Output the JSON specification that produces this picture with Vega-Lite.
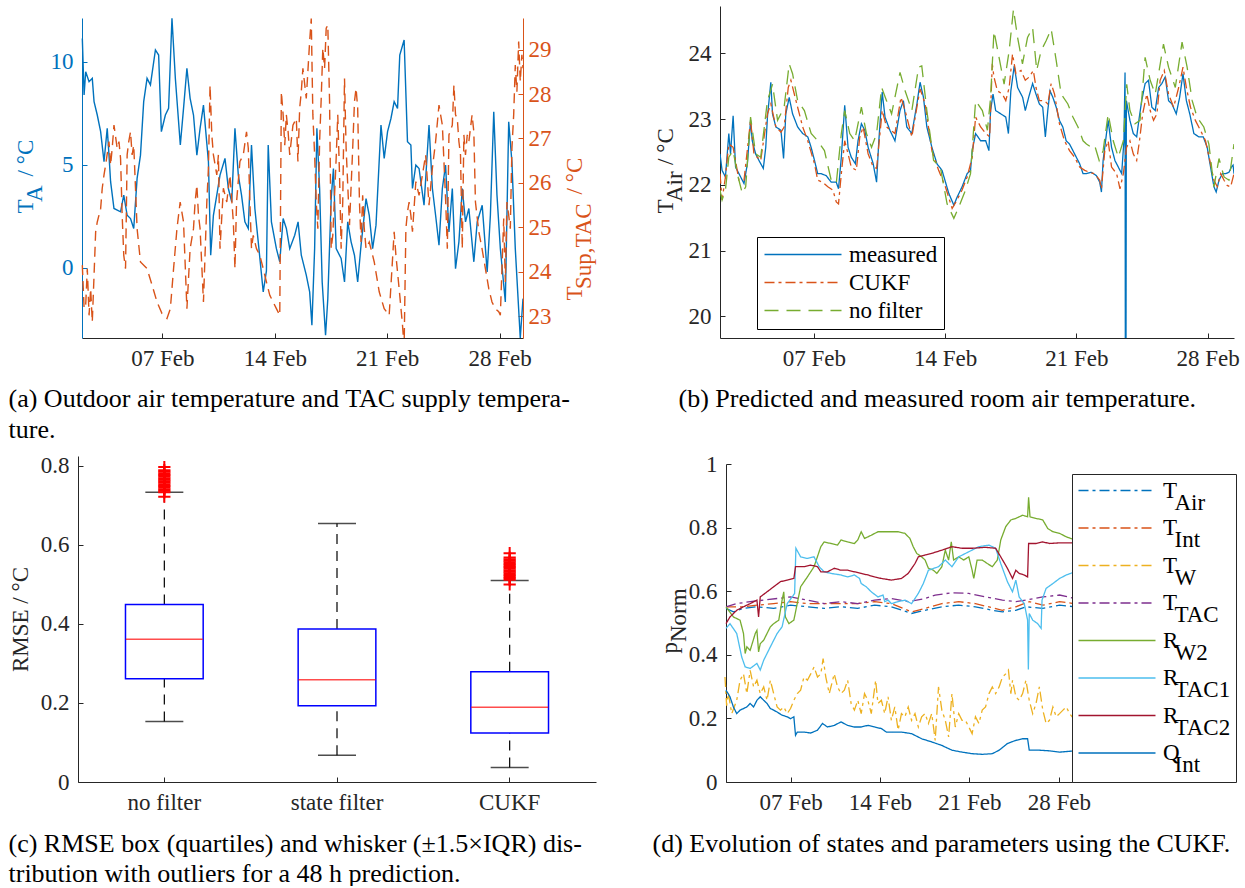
{
"$schema": "https://vega.github.io/schema/vega-lite/v6.json",
"background": "white",
"padding": {"left": 8, "top": 6, "right": 0, "bottom": 0},
"bounds": "flush",
"columns": 2,
"spacing": {"row": 118, "column": 124},
"resolve": {"scale": {"color": "independent", "strokeDash": "independent"}, "legend": {"color": "independent", "strokeDash": "independent"}},
"datasets": {
"ta": [{"d":2.02,"v":11.13},{"d":2.13,"v":8.38},{"d":2.23,"v":9.51},{"d":2.44,"v":9.03},{"d":2.64,"v":9.19},{"d":2.75,"v":8.06},{"d":2.95,"v":7.41},{"d":3.16,"v":6.6},{"d":3.37,"v":5.14},{"d":3.57,"v":6.76},{"d":3.68,"v":5.46},{"d":3.78,"v":4.17},{"d":3.99,"v":2.87},{"d":4.4,"v":2.71},{"d":4.6,"v":3.52},{"d":4.81,"v":2.54},{"d":5.02,"v":2.38},{"d":5.22,"v":1.9},{"d":5.43,"v":4.33},{"d":5.64,"v":5.46},{"d":5.84,"v":8.06},{"d":6.05,"v":9.19},{"d":6.26,"v":8.87},{"d":6.57,"v":10.57},{"d":6.77,"v":10.32},{"d":6.94,"v":6.6},{"d":7.19,"v":7.41},{"d":7.39,"v":7.73},{"d":7.6,"v":12.11},{"d":7.81,"v":9.19},{"d":8.12,"v":5.95},{"d":8.32,"v":7.73},{"d":8.53,"v":9.68},{"d":8.73,"v":8.22},{"d":8.94,"v":7.41},{"d":9.15,"v":5.46},{"d":9.35,"v":6.76},{"d":9.56,"v":7.89},{"d":9.87,"v":5.14},{"d":10.01,"v":0.6},{"d":10.18,"v":2.54},{"d":10.39,"v":3.52},{"d":10.59,"v":4.49},{"d":10.9,"v":5.3},{"d":11.11,"v":3.84},{"d":11.32,"v":3.19},{"d":11.52,"v":6.76},{"d":11.73,"v":4.49},{"d":11.93,"v":3.52},{"d":12.14,"v":2.22},{"d":12.35,"v":1.9},{"d":12.55,"v":5.95},{"d":12.76,"v":2.87},{"d":12.97,"v":1.25},{"d":13.28,"v":-1.18},{"d":13.48,"v":-0.16},{"d":13.59,"v":5.95},{"d":13.79,"v":2.22},{"d":14.1,"v":0.92},{"d":14.31,"v":0.28},{"d":14.52,"v":2.38},{"d":14.72,"v":1.9},{"d":14.93,"v":0.92},{"d":15.24,"v":1.57},{"d":15.45,"v":2.22},{"d":15.65,"v":0.6},{"d":15.96,"v":-0.37},{"d":16.17,"v":-1.18},{"d":16.31,"v":-2.8},{"d":16.48,"v":0.92},{"d":16.62,"v":6.76},{"d":16.79,"v":3.84},{"d":16.95,"v":-0.7},{"d":17.16,"v":-3.29},{"d":17.3,"v":-1.51},{"d":17.51,"v":3.35},{"d":17.65,"v":4.81},{"d":17.82,"v":0.92},{"d":18.13,"v":0.44},{"d":18.34,"v":-0.7},{"d":18.54,"v":2.22},{"d":18.75,"v":1.25},{"d":18.96,"v":0.6},{"d":19.16,"v":-0.7},{"d":19.37,"v":1.09},{"d":19.68,"v":3.35},{"d":19.88,"v":2.54},{"d":20.09,"v":0.92},{"d":20.3,"v":2.06},{"d":20.61,"v":6.92},{"d":20.81,"v":5.3},{"d":21.02,"v":6.6},{"d":21.23,"v":7.24},{"d":21.43,"v":8.06},{"d":21.64,"v":7.73},{"d":21.78,"v":10.32},{"d":22.05,"v":11.05},{"d":22.26,"v":6.11},{"d":22.47,"v":5.95},{"d":22.57,"v":3.84},{"d":22.78,"v":4.98},{"d":22.98,"v":4.81},{"d":23.29,"v":3.03},{"d":23.6,"v":6.92},{"d":23.81,"v":3.84},{"d":24.01,"v":2.54},{"d":24.22,"v":1.09},{"d":24.43,"v":3.84},{"d":24.63,"v":4.98},{"d":24.84,"v":1.73},{"d":25.05,"v":3.84},{"d":25.25,"v":-0.05},{"d":25.46,"v":1.25},{"d":25.67,"v":3.84},{"d":25.87,"v":2.22},{"d":26.08,"v":2.87},{"d":26.39,"v":0.28},{"d":26.6,"v":2.22},{"d":26.91,"v":3.03},{"d":27.22,"v":-0.21},{"d":27.42,"v":2.54},{"d":27.63,"v":7.57},{"d":27.83,"v":3.52},{"d":28.04,"v":0.92},{"d":28.35,"v":-1.67},{"d":28.56,"v":7.08},{"d":28.76,"v":5.14},{"d":28.97,"v":0.92},{"d":29.28,"v":-3.42},{"d":29.45,"v":-1.51}],
"ts": [{"d":2.02,"v":24.15},{"d":2.13,"v":23.17},{"d":2.23,"v":23.25},{"d":2.33,"v":24.07},{"d":2.44,"v":23.02},{"d":2.54,"v":23.62},{"d":2.64,"v":22.87},{"d":2.75,"v":23.92},{"d":2.85,"v":24.9},{"d":2.95,"v":25.12},{"d":3.16,"v":25.42},{"d":3.26,"v":25.88},{"d":3.37,"v":26.18},{"d":3.47,"v":26.4},{"d":3.68,"v":26.93},{"d":3.78,"v":26.4},{"d":3.88,"v":26.78},{"d":3.99,"v":27.3},{"d":4.19,"v":26.78},{"d":4.3,"v":26.93},{"d":4.4,"v":26.55},{"d":4.5,"v":25.27},{"d":4.6,"v":24.37},{"d":4.71,"v":24.07},{"d":4.81,"v":26.63},{"d":4.91,"v":26.93},{"d":5.02,"v":27.15},{"d":5.12,"v":26.63},{"d":5.22,"v":26.85},{"d":5.33,"v":25.88},{"d":5.43,"v":24.97},{"d":5.64,"v":24.22},{"d":6.05,"v":24.07},{"d":6.36,"v":23.7},{"d":6.67,"v":23.32},{"d":6.98,"v":23.06},{"d":7.29,"v":22.95},{"d":7.5,"v":23.17},{"d":7.7,"v":24.07},{"d":7.91,"v":24.97},{"d":8.11,"v":25.57},{"d":8.32,"v":25.12},{"d":8.53,"v":23.17},{"d":8.73,"v":24.52},{"d":8.94,"v":24.97},{"d":9.04,"v":25.57},{"d":9.15,"v":25.95},{"d":9.25,"v":25.27},{"d":9.35,"v":24.97},{"d":9.56,"v":23.32},{"d":9.77,"v":25.57},{"d":9.87,"v":26.33},{"d":9.97,"v":28.2},{"d":10.08,"v":27.08},{"d":10.18,"v":26.63},{"d":10.39,"v":26.18},{"d":10.49,"v":26.63},{"d":10.59,"v":24.52},{"d":10.8,"v":25.88},{"d":11.01,"v":25.57},{"d":11.21,"v":26.18},{"d":11.42,"v":25.12},{"d":11.52,"v":24.07},{"d":11.62,"v":25.57},{"d":11.83,"v":26.48},{"d":12.04,"v":26.63},{"d":12.24,"v":27.15},{"d":12.35,"v":26.78},{"d":12.45,"v":25.57},{"d":12.55,"v":24.52},{"d":12.66,"v":24.82},{"d":12.86,"v":24.52},{"d":13.07,"v":24.37},{"d":13.28,"v":24.07},{"d":13.48,"v":23.77},{"d":13.69,"v":23.47},{"d":13.9,"v":23.32},{"d":14.1,"v":23.17},{"d":14.31,"v":23.02},{"d":14.41,"v":28.05},{"d":14.52,"v":27.53},{"d":14.62,"v":26.85},{"d":14.72,"v":27.53},{"d":14.83,"v":27.15},{"d":14.93,"v":26.63},{"d":15.13,"v":27.3},{"d":15.34,"v":27.45},{"d":15.44,"v":26.48},{"d":15.55,"v":27.68},{"d":15.65,"v":28.05},{"d":15.75,"v":28.58},{"d":15.96,"v":27.9},{"d":16.17,"v":29.18},{"d":16.27,"v":29.7},{"d":16.37,"v":27.53},{"d":16.48,"v":26.63},{"d":16.58,"v":25.57},{"d":16.68,"v":24.97},{"d":16.79,"v":26.93},{"d":16.89,"v":27.9},{"d":16.99,"v":29.03},{"d":17.1,"v":28.58},{"d":17.2,"v":29.48},{"d":17.3,"v":29.55},{"d":17.41,"v":27.83},{"d":17.51,"v":24.52},{"d":17.61,"v":24.82},{"d":17.82,"v":26.55},{"d":17.92,"v":27.53},{"d":18.03,"v":26.18},{"d":18.13,"v":24.52},{"d":18.23,"v":25.57},{"d":18.34,"v":28.35},{"d":18.44,"v":26.78},{"d":18.65,"v":25.05},{"d":18.85,"v":26.78},{"d":18.96,"v":27.83},{"d":19.06,"v":28.13},{"d":19.16,"v":27.68},{"d":19.27,"v":25.57},{"d":19.37,"v":24.67},{"d":19.47,"v":25.72},{"d":19.57,"v":24.97},{"d":19.68,"v":24.52},{"d":19.88,"v":24.67},{"d":20.09,"v":24.37},{"d":20.19,"v":24.22},{"d":20.5,"v":23.55},{"d":20.81,"v":23.17},{"d":21.12,"v":23.02},{"d":21.43,"v":24.9},{"d":21.54,"v":24.37},{"d":21.74,"v":23.62},{"d":21.95,"v":22.8},{"d":22.05,"v":22.3},{"d":22.16,"v":24.97},{"d":22.26,"v":25.35},{"d":22.36,"v":25.57},{"d":22.47,"v":25.27},{"d":22.57,"v":24.9},{"d":22.78,"v":26.03},{"d":22.98,"v":25.72},{"d":23.19,"v":26.18},{"d":23.39,"v":26.63},{"d":23.6,"v":25.5},{"d":23.81,"v":26.33},{"d":24.01,"v":26.93},{"d":24.22,"v":27.75},{"d":24.43,"v":27.3},{"d":24.63,"v":25.65},{"d":24.74,"v":24.52},{"d":24.84,"v":27.08},{"d":25.05,"v":27.3},{"d":25.15,"v":28.2},{"d":25.25,"v":27.53},{"d":25.36,"v":27.45},{"d":25.46,"v":26.93},{"d":25.56,"v":26.63},{"d":25.67,"v":24.52},{"d":25.77,"v":27.08},{"d":25.87,"v":26.63},{"d":25.98,"v":27.08},{"d":26.08,"v":26.93},{"d":26.28,"v":27.53},{"d":26.39,"v":27.15},{"d":26.49,"v":25.57},{"d":26.7,"v":24.9},{"d":26.9,"v":24.52},{"d":27.11,"v":24.07},{"d":27.32,"v":23.62},{"d":27.52,"v":23.32},{"d":27.73,"v":23.17},{"d":27.94,"v":23.1},{"d":28.04,"v":23.02},{"d":28.25,"v":25.2},{"d":28.35,"v":23.77},{"d":28.45,"v":25.57},{"d":28.56,"v":25.27},{"d":28.66,"v":24.97},{"d":28.76,"v":26.78},{"d":28.87,"v":27.53},{"d":28.97,"v":28.65},{"d":29.07,"v":28.05},{"d":29.18,"v":29.18},{"d":29.28,"v":28.28},{"d":29.38,"v":28.88},{"d":29.45,"v":28.58}],
"tb": [{"s":"measured","d":2.0,"v":22.47},{"s":"measured","d":2.11,"v":22.22},{"s":"measured","d":2.29,"v":22.12},{"s":"measured","d":2.47,"v":22.78},{"s":"measured","d":2.56,"v":22.47},{"s":"measured","d":2.7,"v":23.05},{"s":"measured","d":2.83,"v":22.27},{"s":"measured","d":3.01,"v":22.17},{"s":"measured","d":3.28,"v":22.02},{"s":"measured","d":3.46,"v":22.32},{"s":"measured","d":3.63,"v":22.98},{"s":"measured","d":3.72,"v":22.67},{"s":"measured","d":3.9,"v":22.47},{"s":"measured","d":4.08,"v":22.37},{"s":"measured","d":4.31,"v":22.25},{"s":"measured","d":4.44,"v":22.57},{"s":"measured","d":4.53,"v":23.03},{"s":"measured","d":4.71,"v":23.56},{"s":"measured","d":4.8,"v":23.08},{"s":"measured","d":4.98,"v":22.88},{"s":"measured","d":5.25,"v":22.83},{"s":"measured","d":5.39,"v":22.4},{"s":"measured","d":5.51,"v":23.08},{"s":"measured","d":5.69,"v":23.33},{"s":"measured","d":5.87,"v":23.08},{"s":"measured","d":6.14,"v":22.88},{"s":"measured","d":6.41,"v":22.78},{"s":"measured","d":6.68,"v":22.73},{"s":"measured","d":6.86,"v":22.57},{"s":"measured","d":7.04,"v":22.37},{"s":"measured","d":7.21,"v":22.17},{"s":"measured","d":7.39,"v":22.17},{"s":"measured","d":7.66,"v":22.14},{"s":"measured","d":7.93,"v":22.04},{"s":"measured","d":8.2,"v":22.04},{"s":"measured","d":8.32,"v":21.94},{"s":"measured","d":8.47,"v":22.42},{"s":"measured","d":8.65,"v":23.21},{"s":"measured","d":8.83,"v":22.57},{"s":"measured","d":9.0,"v":22.42},{"s":"measured","d":9.22,"v":22.32},{"s":"measured","d":9.36,"v":22.67},{"s":"measured","d":9.54,"v":22.93},{"s":"measured","d":9.72,"v":22.83},{"s":"measured","d":9.9,"v":22.57},{"s":"measured","d":10.17,"v":22.32},{"s":"measured","d":10.35,"v":22.04},{"s":"measured","d":10.47,"v":22.67},{"s":"measured","d":10.65,"v":23.41},{"s":"measured","d":10.8,"v":23.03},{"s":"measured","d":11.06,"v":22.83},{"s":"measured","d":11.33,"v":22.67},{"s":"measured","d":11.6,"v":23.13},{"s":"measured","d":11.78,"v":23.28},{"s":"measured","d":11.96,"v":22.88},{"s":"measured","d":12.23,"v":22.78},{"s":"measured","d":12.5,"v":23.23},{"s":"measured","d":12.67,"v":23.56},{"s":"measured","d":12.85,"v":23.33},{"s":"measured","d":13.03,"v":22.88},{"s":"measured","d":13.3,"v":22.57},{"s":"measured","d":13.57,"v":22.32},{"s":"measured","d":13.84,"v":22.22},{"s":"measured","d":14.2,"v":21.87},{"s":"measured","d":14.47,"v":21.69},{"s":"measured","d":14.64,"v":21.81},{"s":"measured","d":14.91,"v":21.97},{"s":"measured","d":15.18,"v":22.17},{"s":"measured","d":15.36,"v":22.22},{"s":"measured","d":15.45,"v":22.52},{"s":"measured","d":15.63,"v":22.78},{"s":"measured","d":15.9,"v":22.67},{"s":"measured","d":16.17,"v":22.67},{"s":"measured","d":16.34,"v":22.52},{"s":"measured","d":16.43,"v":23.13},{"s":"measured","d":16.56,"v":23.38},{"s":"measured","d":16.7,"v":23.13},{"s":"measured","d":16.97,"v":23.08},{"s":"measured","d":17.24,"v":23.03},{"s":"measured","d":17.38,"v":22.78},{"s":"measured","d":17.51,"v":23.43},{"s":"measured","d":17.69,"v":23.81},{"s":"measured","d":17.87,"v":23.48},{"s":"measured","d":18.14,"v":23.33},{"s":"measured","d":18.28,"v":23.13},{"s":"measured","d":18.46,"v":23.33},{"s":"measured","d":18.67,"v":23.54},{"s":"measured","d":18.85,"v":23.38},{"s":"measured","d":19.03,"v":23.23},{"s":"measured","d":19.21,"v":23.18},{"s":"measured","d":19.35,"v":22.73},{"s":"measured","d":19.48,"v":23.13},{"s":"measured","d":19.6,"v":23.43},{"s":"measured","d":19.75,"v":23.33},{"s":"measured","d":19.93,"v":23.18},{"s":"measured","d":20.1,"v":22.98},{"s":"measured","d":20.28,"v":22.88},{"s":"measured","d":20.46,"v":22.67},{"s":"measured","d":20.64,"v":22.62},{"s":"measured","d":20.91,"v":22.47},{"s":"measured","d":21.18,"v":22.32},{"s":"measured","d":21.36,"v":22.17},{"s":"measured","d":21.54,"v":22.17},{"s":"measured","d":21.8,"v":22.19},{"s":"measured","d":22.07,"v":22.14},{"s":"measured","d":22.25,"v":22.04},{"s":"measured","d":22.34,"v":21.89},{"s":"measured","d":22.43,"v":22.37},{"s":"measured","d":22.61,"v":22.78},{"s":"measured","d":22.7,"v":22.98},{"s":"measured","d":22.88,"v":22.57},{"s":"measured","d":23.06,"v":22.37},{"s":"measured","d":23.24,"v":22.27},{"s":"measured","d":23.42,"v":22.17},{"s":"measured","d":23.54,"v":22.67},{"s":"measured","d":23.6,"v":23.71},{"s":"measured","d":23.63,"v":15.0},{"s":"measured","d":23.67,"v":23.28},{"s":"measured","d":23.86,"v":22.98},{"s":"measured","d":24.04,"v":22.78},{"s":"measured","d":24.22,"v":22.73},{"s":"measured","d":24.36,"v":23.03},{"s":"measured","d":24.49,"v":23.28},{"s":"measured","d":24.67,"v":23.54},{"s":"measured","d":24.85,"v":23.59},{"s":"measured","d":25.03,"v":23.18},{"s":"measured","d":25.21,"v":23.13},{"s":"measured","d":25.39,"v":23.48},{"s":"measured","d":25.56,"v":23.54},{"s":"measured","d":25.74,"v":23.64},{"s":"measured","d":25.92,"v":23.28},{"s":"measured","d":26.1,"v":23.23},{"s":"measured","d":26.33,"v":23.08},{"s":"measured","d":26.51,"v":23.33},{"s":"measured","d":26.69,"v":23.69},{"s":"measured","d":26.87,"v":23.28},{"s":"measured","d":27.05,"v":23.08},{"s":"measured","d":27.27,"v":22.78},{"s":"measured","d":27.53,"v":22.73},{"s":"measured","d":27.77,"v":22.73},{"s":"measured","d":27.98,"v":22.57},{"s":"measured","d":28.16,"v":22.27},{"s":"measured","d":28.34,"v":21.97},{"s":"measured","d":28.46,"v":21.89},{"s":"measured","d":28.61,"v":22.07},{"s":"measured","d":28.79,"v":22.17},{"s":"measured","d":28.97,"v":22.17},{"s":"measured","d":29.14,"v":22.19},{"s":"measured","d":29.27,"v":22.27},{"s":"measured","d":29.36,"v":22.3},{"s":"measured","d":29.41,"v":22.17},
{"s":"CUKF","d":2.0,"v":22.17},{"s":"CUKF","d":2.11,"v":21.77},{"s":"CUKF","d":2.29,"v":22.12},{"s":"CUKF","d":2.47,"v":22.62},{"s":"CUKF","d":2.7,"v":22.57},{"s":"CUKF","d":3.01,"v":22.07},{"s":"CUKF","d":3.28,"v":22.07},{"s":"CUKF","d":3.63,"v":22.98},{"s":"CUKF","d":3.81,"v":22.47},{"s":"CUKF","d":4.17,"v":22.37},{"s":"CUKF","d":4.53,"v":23.08},{"s":"CUKF","d":4.71,"v":23.23},{"s":"CUKF","d":4.98,"v":22.88},{"s":"CUKF","d":5.25,"v":22.8},{"s":"CUKF","d":5.42,"v":22.88},{"s":"CUKF","d":5.64,"v":23.48},{"s":"CUKF","d":5.78,"v":23.59},{"s":"CUKF","d":6.14,"v":23.18},{"s":"CUKF","d":6.41,"v":22.88},{"s":"CUKF","d":6.68,"v":22.67},{"s":"CUKF","d":7.04,"v":22.32},{"s":"CUKF","d":7.21,"v":22.07},{"s":"CUKF","d":7.48,"v":22.04},{"s":"CUKF","d":7.75,"v":21.97},{"s":"CUKF","d":8.02,"v":21.92},{"s":"CUKF","d":8.2,"v":21.74},{"s":"CUKF","d":8.32,"v":21.71},{"s":"CUKF","d":8.47,"v":22.17},{"s":"CUKF","d":8.65,"v":22.67},{"s":"CUKF","d":8.83,"v":22.47},{"s":"CUKF","d":9.0,"v":22.27},{"s":"CUKF","d":9.27,"v":22.22},{"s":"CUKF","d":9.45,"v":22.72},{"s":"CUKF","d":9.63,"v":22.88},{"s":"CUKF","d":9.9,"v":22.47},{"s":"CUKF","d":10.17,"v":22.27},{"s":"CUKF","d":10.35,"v":22.25},{"s":"CUKF","d":10.65,"v":23.13},{"s":"CUKF","d":10.88,"v":22.88},{"s":"CUKF","d":11.33,"v":22.78},{"s":"CUKF","d":11.65,"v":23.33},{"s":"CUKF","d":11.87,"v":23.13},{"s":"CUKF","d":12.23,"v":22.73},{"s":"CUKF","d":12.5,"v":23.18},{"s":"CUKF","d":12.67,"v":23.46},{"s":"CUKF","d":12.94,"v":23.23},{"s":"CUKF","d":13.3,"v":22.52},{"s":"CUKF","d":13.66,"v":22.22},{"s":"CUKF","d":14.02,"v":21.97},{"s":"CUKF","d":14.38,"v":21.64},{"s":"CUKF","d":14.64,"v":21.77},{"s":"CUKF","d":14.91,"v":21.92},{"s":"CUKF","d":15.18,"v":22.12},{"s":"CUKF","d":15.45,"v":22.42},{"s":"CUKF","d":15.63,"v":23.03},{"s":"CUKF","d":15.9,"v":22.88},{"s":"CUKF","d":16.17,"v":22.78},{"s":"CUKF","d":16.38,"v":22.73},{"s":"CUKF","d":16.52,"v":23.84},{"s":"CUKF","d":16.61,"v":23.64},{"s":"CUKF","d":16.79,"v":23.43},{"s":"CUKF","d":17.06,"v":23.38},{"s":"CUKF","d":17.24,"v":23.28},{"s":"CUKF","d":17.42,"v":23.48},{"s":"CUKF","d":17.6,"v":23.99},{"s":"CUKF","d":17.78,"v":23.69},{"s":"CUKF","d":18.05,"v":23.74},{"s":"CUKF","d":18.28,"v":23.59},{"s":"CUKF","d":18.49,"v":23.64},{"s":"CUKF","d":18.71,"v":23.74},{"s":"CUKF","d":18.85,"v":23.48},{"s":"CUKF","d":19.03,"v":23.28},{"s":"CUKF","d":19.3,"v":23.28},{"s":"CUKF","d":19.48,"v":23.23},{"s":"CUKF","d":19.66,"v":23.54},{"s":"CUKF","d":19.84,"v":23.38},{"s":"CUKF","d":20.1,"v":22.93},{"s":"CUKF","d":20.37,"v":22.67},{"s":"CUKF","d":20.64,"v":22.52},{"s":"CUKF","d":20.91,"v":22.42},{"s":"CUKF","d":21.18,"v":22.27},{"s":"CUKF","d":21.45,"v":22.22},{"s":"CUKF","d":21.71,"v":22.19},{"s":"CUKF","d":21.98,"v":22.17},{"s":"CUKF","d":22.25,"v":22.07},{"s":"CUKF","d":22.34,"v":21.94},{"s":"CUKF","d":22.52,"v":22.52},{"s":"CUKF","d":22.7,"v":22.67},{"s":"CUKF","d":22.88,"v":22.27},{"s":"CUKF","d":23.15,"v":22.17},{"s":"CUKF","d":23.33,"v":21.94},{"s":"CUKF","d":23.51,"v":22.17},{"s":"CUKF","d":23.68,"v":22.57},{"s":"CUKF","d":23.86,"v":22.67},{"s":"CUKF","d":24.04,"v":22.47},{"s":"CUKF","d":24.22,"v":22.37},{"s":"CUKF","d":24.37,"v":22.67},{"s":"CUKF","d":24.54,"v":23.08},{"s":"CUKF","d":24.76,"v":23.38},{"s":"CUKF","d":24.94,"v":23.13},{"s":"CUKF","d":25.12,"v":22.98},{"s":"CUKF","d":25.3,"v":23.08},{"s":"CUKF","d":25.47,"v":23.59},{"s":"CUKF","d":25.69,"v":23.74},{"s":"CUKF","d":25.92,"v":23.38},{"s":"CUKF","d":26.19,"v":23.18},{"s":"CUKF","d":26.46,"v":23.48},{"s":"CUKF","d":26.69,"v":23.79},{"s":"CUKF","d":26.87,"v":23.48},{"s":"CUKF","d":27.09,"v":23.18},{"s":"CUKF","d":27.35,"v":22.98},{"s":"CUKF","d":27.62,"v":22.83},{"s":"CUKF","d":27.89,"v":22.67},{"s":"CUKF","d":28.12,"v":22.37},{"s":"CUKF","d":28.34,"v":22.07},{"s":"CUKF","d":28.52,"v":21.97},{"s":"CUKF","d":28.7,"v":22.17},{"s":"CUKF","d":28.88,"v":22.07},{"s":"CUKF","d":29.05,"v":21.99},{"s":"CUKF","d":29.23,"v":21.97},{"s":"CUKF","d":29.41,"v":22.17},
{"s":"no filter","d":2.0,"v":21.92},{"s":"no filter","d":2.11,"v":21.77},{"s":"no filter","d":2.29,"v":21.92},{"s":"no filter","d":2.47,"v":22.42},{"s":"no filter","d":2.7,"v":22.52},{"s":"no filter","d":2.92,"v":22.17},{"s":"no filter","d":3.19,"v":21.87},{"s":"no filter","d":3.37,"v":21.97},{"s":"no filter","d":3.63,"v":23.03},{"s":"no filter","d":3.9,"v":22.47},{"s":"no filter","d":4.17,"v":22.42},{"s":"no filter","d":4.53,"v":23.28},{"s":"no filter","d":4.8,"v":23.53},{"s":"no filter","d":5.07,"v":22.98},{"s":"no filter","d":5.42,"v":23.18},{"s":"no filter","d":5.69,"v":23.84},{"s":"no filter","d":5.87,"v":23.69},{"s":"no filter","d":6.14,"v":23.28},{"s":"no filter","d":6.5,"v":23.13},{"s":"no filter","d":6.86,"v":22.78},{"s":"no filter","d":7.21,"v":22.67},{"s":"no filter","d":7.57,"v":22.52},{"s":"no filter","d":7.93,"v":22.07},{"s":"no filter","d":8.2,"v":22.02},{"s":"no filter","d":8.47,"v":22.78},{"s":"no filter","d":8.65,"v":23.13},{"s":"no filter","d":8.92,"v":22.78},{"s":"no filter","d":9.18,"v":22.67},{"s":"no filter","d":9.54,"v":23.18},{"s":"no filter","d":9.81,"v":22.78},{"s":"no filter","d":10.08,"v":22.57},{"s":"no filter","d":10.35,"v":22.78},{"s":"no filter","d":10.62,"v":23.48},{"s":"no filter","d":10.88,"v":23.28},{"s":"no filter","d":11.15,"v":23.08},{"s":"no filter","d":11.6,"v":23.71},{"s":"no filter","d":11.87,"v":23.43},{"s":"no filter","d":12.23,"v":23.13},{"s":"no filter","d":12.59,"v":23.79},{"s":"no filter","d":12.76,"v":23.81},{"s":"no filter","d":13.03,"v":23.13},{"s":"no filter","d":13.39,"v":22.37},{"s":"no filter","d":13.75,"v":22.27},{"s":"no filter","d":14.11,"v":21.71},{"s":"no filter","d":14.47,"v":21.49},{"s":"no filter","d":14.73,"v":21.66},{"s":"no filter","d":15.09,"v":21.92},{"s":"no filter","d":15.36,"v":22.17},{"s":"no filter","d":15.63,"v":23.28},{"s":"no filter","d":15.99,"v":23.13},{"s":"no filter","d":16.26,"v":22.83},{"s":"no filter","d":16.43,"v":23.33},{"s":"no filter","d":16.61,"v":24.34},{"s":"no filter","d":16.88,"v":23.94},{"s":"no filter","d":17.15,"v":23.53},{"s":"no filter","d":17.42,"v":24.04},{"s":"no filter","d":17.65,"v":24.67},{"s":"no filter","d":17.87,"v":24.24},{"s":"no filter","d":18.13,"v":23.84},{"s":"no filter","d":18.4,"v":24.24},{"s":"no filter","d":18.67,"v":24.39},{"s":"no filter","d":18.89,"v":23.74},{"s":"no filter","d":19.12,"v":24.04},{"s":"no filter","d":19.39,"v":24.19},{"s":"no filter","d":19.66,"v":24.37},{"s":"no filter","d":19.93,"v":23.89},{"s":"no filter","d":20.19,"v":23.38},{"s":"no filter","d":20.55,"v":23.23},{"s":"no filter","d":20.82,"v":23.03},{"s":"no filter","d":21.09,"v":22.88},{"s":"no filter","d":21.36,"v":22.67},{"s":"no filter","d":21.54,"v":22.62},{"s":"no filter","d":21.81,"v":22.57},{"s":"no filter","d":21.98,"v":22.6},{"s":"no filter","d":22.22,"v":22.37},{"s":"no filter","d":22.43,"v":22.52},{"s":"no filter","d":22.7,"v":23.08},{"s":"no filter","d":22.97,"v":22.67},{"s":"no filter","d":23.24,"v":22.42},{"s":"no filter","d":23.51,"v":22.67},{"s":"no filter","d":23.69,"v":23.53},{"s":"no filter","d":23.86,"v":23.13},{"s":"no filter","d":24.13,"v":22.93},{"s":"no filter","d":24.4,"v":22.98},{"s":"no filter","d":24.67,"v":23.94},{"s":"no filter","d":24.94,"v":23.59},{"s":"no filter","d":25.21,"v":23.38},{"s":"no filter","d":25.65,"v":24.14},{"s":"no filter","d":25.92,"v":23.79},{"s":"no filter","d":26.28,"v":23.48},{"s":"no filter","d":26.64,"v":24.17},{"s":"no filter","d":26.91,"v":23.79},{"s":"no filter","d":27.18,"v":23.28},{"s":"no filter","d":27.44,"v":23.03},{"s":"no filter","d":27.8,"v":22.88},{"s":"no filter","d":28.07,"v":22.62},{"s":"no filter","d":28.34,"v":21.97},{"s":"no filter","d":28.61,"v":22.4},{"s":"no filter","d":28.88,"v":22.12},{"s":"no filter","d":29.14,"v":22.07},{"s":"no filter","d":29.41,"v":22.62}],
"box": [{"cat":"no filter","lo":0.153,"q1":0.261,"med":0.361,"q3":0.449,"hi":0.733},{"cat":"state filter","lo":0.068,"q1":0.193,"med":0.259,"q3":0.387,"hi":0.654},{"cat":"CUKF","lo":0.037,"q1":0.124,"med":0.189,"q3":0.279,"hi":0.51}],
"out": [{"cat":"no filter","v":0.722},{"cat":"no filter","v":0.733},{"cat":"no filter","v":0.737},{"cat":"no filter","v":0.741},{"cat":"no filter","v":0.745},{"cat":"no filter","v":0.749},{"cat":"no filter","v":0.753},{"cat":"no filter","v":0.757},{"cat":"no filter","v":0.761},{"cat":"no filter","v":0.765},{"cat":"no filter","v":0.769},{"cat":"no filter","v":0.773},{"cat":"no filter","v":0.777},{"cat":"no filter","v":0.781},{"cat":"no filter","v":0.785},{"cat":"no filter","v":0.789},{"cat":"no filter","v":0.797},{"cat":"CUKF","v":0.5},{"cat":"CUKF","v":0.512},{"cat":"CUKF","v":0.516},{"cat":"CUKF","v":0.52},{"cat":"CUKF","v":0.524},{"cat":"CUKF","v":0.528},{"cat":"CUKF","v":0.532},{"cat":"CUKF","v":0.536},{"cat":"CUKF","v":0.54},{"cat":"CUKF","v":0.544},{"cat":"CUKF","v":0.548},{"cat":"CUKF","v":0.552},{"cat":"CUKF","v":0.556},{"cat":"CUKF","v":0.56},{"cat":"CUKF","v":0.564},{"cat":"CUKF","v":0.568},{"cat":"CUKF","v":0.579}],
"pd": [{"s":"T_Air","d":1.95,"v":0.546},{"s":"T_Air","d":2.53,"v":0.535},{"s":"T_Air","d":3.32,"v":0.546},{"s":"T_Air","d":4.37,"v":0.551},{"s":"T_Air","d":5.68,"v":0.546},{"s":"T_Air","d":7.0,"v":0.556},{"s":"T_Air","d":8.32,"v":0.551},{"s":"T_Air","d":9.63,"v":0.546},{"s":"T_Air","d":10.95,"v":0.551},{"s":"T_Air","d":12.26,"v":0.546},{"s":"T_Air","d":13.58,"v":0.556},{"s":"T_Air","d":14.89,"v":0.551},{"s":"T_Air","d":16.47,"v":0.53},{"s":"T_Air","d":17.53,"v":0.54},{"s":"T_Air","d":18.84,"v":0.551},{"s":"T_Air","d":20.16,"v":0.556},{"s":"T_Air","d":21.47,"v":0.551},{"s":"T_Air","d":22.79,"v":0.54},{"s":"T_Air","d":23.58,"v":0.535},{"s":"T_Air","d":24.63,"v":0.54},{"s":"T_Air","d":25.42,"v":0.551},{"s":"T_Air","d":26.74,"v":0.546},{"s":"T_Air","d":28.05,"v":0.556},{"s":"T_Air","d":29.26,"v":0.551},
{"s":"T_Int","d":1.95,"v":0.551},{"s":"T_Int","d":3.32,"v":0.551},{"s":"T_Int","d":4.37,"v":0.556},{"s":"T_Int","d":5.68,"v":0.561},{"s":"T_Int","d":7.0,"v":0.567},{"s":"T_Int","d":8.32,"v":0.561},{"s":"T_Int","d":9.63,"v":0.561},{"s":"T_Int","d":12.26,"v":0.561},{"s":"T_Int","d":13.58,"v":0.567},{"s":"T_Int","d":14.89,"v":0.561},{"s":"T_Int","d":16.47,"v":0.535},{"s":"T_Int","d":17.53,"v":0.546},{"s":"T_Int","d":18.84,"v":0.561},{"s":"T_Int","d":20.16,"v":0.567},{"s":"T_Int","d":21.47,"v":0.561},{"s":"T_Int","d":23.58,"v":0.54},{"s":"T_Int","d":24.63,"v":0.551},{"s":"T_Int","d":25.68,"v":0.567},{"s":"T_Int","d":26.74,"v":0.556},{"s":"T_Int","d":28.05,"v":0.567},{"s":"T_Int","d":29.26,"v":0.561},
{"s":"T_W","d":1.87,"v":0.33},{"s":"T_W","d":2.0,"v":0.24},{"s":"T_W","d":2.13,"v":0.28},{"s":"T_W","d":2.4,"v":0.215},{"s":"T_W","d":2.79,"v":0.257},{"s":"T_W","d":3.05,"v":0.32},{"s":"T_W","d":3.32,"v":0.34},{"s":"T_W","d":3.58,"v":0.278},{"s":"T_W","d":3.84,"v":0.351},{"s":"T_W","d":4.11,"v":0.299},{"s":"T_W","d":4.37,"v":0.32},{"s":"T_W","d":4.63,"v":0.278},{"s":"T_W","d":4.9,"v":0.299},{"s":"T_W","d":5.16,"v":0.257},{"s":"T_W","d":5.42,"v":0.32},{"s":"T_W","d":5.68,"v":0.278},{"s":"T_W","d":5.95,"v":0.236},{"s":"T_W","d":6.21,"v":0.226},{"s":"T_W","d":6.47,"v":0.236},{"s":"T_W","d":6.74,"v":0.215},{"s":"T_W","d":7.0,"v":0.231},{"s":"T_W","d":7.26,"v":0.257},{"s":"T_W","d":7.53,"v":0.278},{"s":"T_W","d":7.79,"v":0.289},{"s":"T_W","d":8.05,"v":0.33},{"s":"T_W","d":8.32,"v":0.32},{"s":"T_W","d":8.58,"v":0.34},{"s":"T_W","d":8.84,"v":0.362},{"s":"T_W","d":9.11,"v":0.33},{"s":"T_W","d":9.37,"v":0.34},{"s":"T_W","d":9.55,"v":0.388},{"s":"T_W","d":9.76,"v":0.33},{"s":"T_W","d":10.03,"v":0.278},{"s":"T_W","d":10.42,"v":0.34},{"s":"T_W","d":10.68,"v":0.299},{"s":"T_W","d":10.95,"v":0.278},{"s":"T_W","d":11.21,"v":0.289},{"s":"T_W","d":11.47,"v":0.32},{"s":"T_W","d":11.74,"v":0.247},{"s":"T_W","d":12.0,"v":0.226},{"s":"T_W","d":12.26,"v":0.257},{"s":"T_W","d":12.53,"v":0.215},{"s":"T_W","d":12.79,"v":0.278},{"s":"T_W","d":13.05,"v":0.257},{"s":"T_W","d":13.32,"v":0.215},{"s":"T_W","d":13.66,"v":0.32},{"s":"T_W","d":13.84,"v":0.247},{"s":"T_W","d":14.11,"v":0.257},{"s":"T_W","d":14.37,"v":0.215},{"s":"T_W","d":14.63,"v":0.268},{"s":"T_W","d":14.89,"v":0.194},{"s":"T_W","d":15.16,"v":0.236},{"s":"T_W","d":15.42,"v":0.163},{"s":"T_W","d":15.68,"v":0.215},{"s":"T_W","d":15.95,"v":0.205},{"s":"T_W","d":16.21,"v":0.236},{"s":"T_W","d":16.47,"v":0.194},{"s":"T_W","d":16.74,"v":0.215},{"s":"T_W","d":17.0,"v":0.173},{"s":"T_W","d":17.26,"v":0.205},{"s":"T_W","d":17.53,"v":0.215},{"s":"T_W","d":17.79,"v":0.184},{"s":"T_W","d":18.05,"v":0.215},{"s":"T_W","d":18.32,"v":0.131},{"s":"T_W","d":18.58,"v":0.299},{"s":"T_W","d":18.84,"v":0.226},{"s":"T_W","d":19.11,"v":0.194},{"s":"T_W","d":19.37,"v":0.142},{"s":"T_W","d":19.63,"v":0.278},{"s":"T_W","d":19.89,"v":0.173},{"s":"T_W","d":20.16,"v":0.215},{"s":"T_W","d":20.42,"v":0.194},{"s":"T_W","d":20.68,"v":0.194},{"s":"T_W","d":20.95,"v":0.173},{"s":"T_W","d":21.21,"v":0.152},{"s":"T_W","d":21.47,"v":0.205},{"s":"T_W","d":21.74,"v":0.184},{"s":"T_W","d":22.0,"v":0.226},{"s":"T_W","d":22.26,"v":0.236},{"s":"T_W","d":22.53,"v":0.278},{"s":"T_W","d":22.79,"v":0.299},{"s":"T_W","d":23.05,"v":0.278},{"s":"T_W","d":23.32,"v":0.299},{"s":"T_W","d":23.58,"v":0.33},{"s":"T_W","d":23.84,"v":0.34},{"s":"T_W","d":24.05,"v":0.352},{"s":"T_W","d":24.24,"v":0.278},{"s":"T_W","d":24.37,"v":0.32},{"s":"T_W","d":24.63,"v":0.268},{"s":"T_W","d":24.89,"v":0.257},{"s":"T_W","d":25.16,"v":0.278},{"s":"T_W","d":25.42,"v":0.32},{"s":"T_W","d":25.68,"v":0.257},{"s":"T_W","d":25.95,"v":0.215},{"s":"T_W","d":26.21,"v":0.247},{"s":"T_W","d":26.47,"v":0.299},{"s":"T_W","d":26.74,"v":0.226},{"s":"T_W","d":27.0,"v":0.184},{"s":"T_W","d":27.26,"v":0.194},{"s":"T_W","d":27.53,"v":0.236},{"s":"T_W","d":27.79,"v":0.205},{"s":"T_W","d":28.05,"v":0.215},{"s":"T_W","d":28.32,"v":0.226},{"s":"T_W","d":28.58,"v":0.236},{"s":"T_W","d":28.84,"v":0.215},{"s":"T_W","d":29.26,"v":0.194},
{"s":"T_TAC","d":1.95,"v":0.551},{"s":"T_TAC","d":2.79,"v":0.561},{"s":"T_TAC","d":3.84,"v":0.567},{"s":"T_TAC","d":4.9,"v":0.572},{"s":"T_TAC","d":5.95,"v":0.577},{"s":"T_TAC","d":7.0,"v":0.582},{"s":"T_TAC","d":8.32,"v":0.572},{"s":"T_TAC","d":9.63,"v":0.561},{"s":"T_TAC","d":10.95,"v":0.567},{"s":"T_TAC","d":12.26,"v":0.561},{"s":"T_TAC","d":13.58,"v":0.572},{"s":"T_TAC","d":14.89,"v":0.577},{"s":"T_TAC","d":16.21,"v":0.567},{"s":"T_TAC","d":17.53,"v":0.577},{"s":"T_TAC","d":18.32,"v":0.588},{"s":"T_TAC","d":19.63,"v":0.595},{"s":"T_TAC","d":20.95,"v":0.593},{"s":"T_TAC","d":22.26,"v":0.582},{"s":"T_TAC","d":23.58,"v":0.572},{"s":"T_TAC","d":24.63,"v":0.567},{"s":"T_TAC","d":25.42,"v":0.572},{"s":"T_TAC","d":26.74,"v":0.582},{"s":"T_TAC","d":28.05,"v":0.588},{"s":"T_TAC","d":29.26,"v":0.577},
{"s":"R_W2","d":1.95,"v":0.551},{"s":"R_W2","d":2.53,"v":0.519},{"s":"R_W2","d":3.05,"v":0.509},{"s":"R_W2","d":3.32,"v":0.467},{"s":"R_W2","d":3.45,"v":0.404},{"s":"R_W2","d":3.58,"v":0.425},{"s":"R_W2","d":3.84,"v":0.414},{"s":"R_W2","d":4.24,"v":0.467},{"s":"R_W2","d":4.37,"v":0.477},{"s":"R_W2","d":4.5,"v":0.409},{"s":"R_W2","d":4.63,"v":0.435},{"s":"R_W2","d":4.9,"v":0.446},{"s":"R_W2","d":5.16,"v":0.467},{"s":"R_W2","d":5.42,"v":0.488},{"s":"R_W2","d":5.68,"v":0.498},{"s":"R_W2","d":6.08,"v":0.509},{"s":"R_W2","d":6.34,"v":0.572},{"s":"R_W2","d":6.47,"v":0.598},{"s":"R_W2","d":6.6,"v":0.519},{"s":"R_W2","d":6.87,"v":0.498},{"s":"R_W2","d":7.26,"v":0.509},{"s":"R_W2","d":7.79,"v":0.614},{"s":"R_W2","d":8.32,"v":0.645},{"s":"R_W2","d":8.84,"v":0.677},{"s":"R_W2","d":9.37,"v":0.74},{"s":"R_W2","d":9.63,"v":0.755},{"s":"R_W2","d":10.16,"v":0.75},{"s":"R_W2","d":10.68,"v":0.745},{"s":"R_W2","d":10.95,"v":0.761},{"s":"R_W2","d":11.47,"v":0.755},{"s":"R_W2","d":12.0,"v":0.75},{"s":"R_W2","d":12.26,"v":0.761},{"s":"R_W2","d":12.53,"v":0.787},{"s":"R_W2","d":12.79,"v":0.766},{"s":"R_W2","d":13.32,"v":0.776},{"s":"R_W2","d":13.84,"v":0.787},{"s":"R_W2","d":14.37,"v":0.787},{"s":"R_W2","d":14.89,"v":0.787},{"s":"R_W2","d":15.42,"v":0.787},{"s":"R_W2","d":15.95,"v":0.782},{"s":"R_W2","d":16.34,"v":0.766},{"s":"R_W2","d":16.6,"v":0.74},{"s":"R_W2","d":16.87,"v":0.719},{"s":"R_W2","d":17.26,"v":0.708},{"s":"R_W2","d":17.53,"v":0.698},{"s":"R_W2","d":17.79,"v":0.672},{"s":"R_W2","d":18.18,"v":0.666},{"s":"R_W2","d":18.45,"v":0.656},{"s":"R_W2","d":18.84,"v":0.677},{"s":"R_W2","d":19.11,"v":0.729},{"s":"R_W2","d":19.37,"v":0.698},{"s":"R_W2","d":19.58,"v":0.755},{"s":"R_W2","d":19.76,"v":0.698},{"s":"R_W2","d":20.16,"v":0.708},{"s":"R_W2","d":20.55,"v":0.698},{"s":"R_W2","d":20.95,"v":0.708},{"s":"R_W2","d":21.21,"v":0.666},{"s":"R_W2","d":21.34,"v":0.64},{"s":"R_W2","d":21.6,"v":0.698},{"s":"R_W2","d":22.0,"v":0.698},{"s":"R_W2","d":22.4,"v":0.687},{"s":"R_W2","d":22.79,"v":0.677},{"s":"R_W2","d":23.18,"v":0.698},{"s":"R_W2","d":23.45,"v":0.761},{"s":"R_W2","d":23.84,"v":0.803},{"s":"R_W2","d":24.24,"v":0.824},{"s":"R_W2","d":24.63,"v":0.829},{"s":"R_W2","d":25.16,"v":0.839},{"s":"R_W2","d":25.55,"v":0.834},{"s":"R_W2","d":25.63,"v":0.895},{"s":"R_W2","d":25.74,"v":0.834},{"s":"R_W2","d":26.21,"v":0.829},{"s":"R_W2","d":26.74,"v":0.824},{"s":"R_W2","d":27.13,"v":0.797},{"s":"R_W2","d":27.53,"v":0.787},{"s":"R_W2","d":28.05,"v":0.782},{"s":"R_W2","d":28.58,"v":0.771},{"s":"R_W2","d":29.26,"v":0.761},
{"s":"R_TAC1","d":1.95,"v":0.483},{"s":"R_TAC1","d":2.26,"v":0.498},{"s":"R_TAC1","d":2.79,"v":0.467},{"s":"R_TAC1","d":3.18,"v":0.393},{"s":"R_TAC1","d":3.45,"v":0.362},{"s":"R_TAC1","d":3.84,"v":0.357},{"s":"R_TAC1","d":4.37,"v":0.373},{"s":"R_TAC1","d":4.63,"v":0.352},{"s":"R_TAC1","d":4.9,"v":0.383},{"s":"R_TAC1","d":5.42,"v":0.425},{"s":"R_TAC1","d":5.95,"v":0.467},{"s":"R_TAC1","d":6.34,"v":0.488},{"s":"R_TAC1","d":6.74,"v":0.561},{"s":"R_TAC1","d":7.13,"v":0.582},{"s":"R_TAC1","d":7.32,"v":0.593},{"s":"R_TAC1","d":7.42,"v":0.735},{"s":"R_TAC1","d":7.79,"v":0.708},{"s":"R_TAC1","d":8.32,"v":0.703},{"s":"R_TAC1","d":8.84,"v":0.708},{"s":"R_TAC1","d":9.24,"v":0.677},{"s":"R_TAC1","d":9.63,"v":0.661},{"s":"R_TAC1","d":10.16,"v":0.656},{"s":"R_TAC1","d":10.95,"v":0.651},{"s":"R_TAC1","d":11.47,"v":0.645},{"s":"R_TAC1","d":12.0,"v":0.651},{"s":"R_TAC1","d":12.4,"v":0.64},{"s":"R_TAC1","d":12.53,"v":0.624},{"s":"R_TAC1","d":12.92,"v":0.614},{"s":"R_TAC1","d":13.32,"v":0.598},{"s":"R_TAC1","d":13.84,"v":0.582},{"s":"R_TAC1","d":14.24,"v":0.588},{"s":"R_TAC1","d":14.37,"v":0.567},{"s":"R_TAC1","d":14.63,"v":0.572},{"s":"R_TAC1","d":14.89,"v":0.561},{"s":"R_TAC1","d":15.42,"v":0.567},{"s":"R_TAC1","d":15.95,"v":0.572},{"s":"R_TAC1","d":16.47,"v":0.561},{"s":"R_TAC1","d":17.0,"v":0.593},{"s":"R_TAC1","d":17.39,"v":0.624},{"s":"R_TAC1","d":17.79,"v":0.666},{"s":"R_TAC1","d":18.58,"v":0.677},{"s":"R_TAC1","d":19.11,"v":0.698},{"s":"R_TAC1","d":19.63,"v":0.677},{"s":"R_TAC1","d":20.16,"v":0.708},{"s":"R_TAC1","d":20.95,"v":0.724},{"s":"R_TAC1","d":21.74,"v":0.74},{"s":"R_TAC1","d":22.53,"v":0.745},{"s":"R_TAC1","d":23.05,"v":0.735},{"s":"R_TAC1","d":23.45,"v":0.687},{"s":"R_TAC1","d":23.97,"v":0.63},{"s":"R_TAC1","d":24.37,"v":0.598},{"s":"R_TAC1","d":24.63,"v":0.635},{"s":"R_TAC1","d":24.89,"v":0.582},{"s":"R_TAC1","d":25.29,"v":0.561},{"s":"R_TAC1","d":25.55,"v":0.509},{"s":"R_TAC1","d":25.61,"v":0.354},{"s":"R_TAC1","d":25.68,"v":0.53},{"s":"R_TAC1","d":25.95,"v":0.509},{"s":"R_TAC1","d":26.34,"v":0.498},{"s":"R_TAC1","d":26.61,"v":0.483},{"s":"R_TAC1","d":26.68,"v":0.572},{"s":"R_TAC1","d":27.0,"v":0.609},{"s":"R_TAC1","d":27.53,"v":0.624},{"s":"R_TAC1","d":28.05,"v":0.64},{"s":"R_TAC1","d":28.58,"v":0.651},{"s":"R_TAC1","d":29.26,"v":0.661},
{"s":"R_TAC2","d":1.95,"v":0.498},{"s":"R_TAC2","d":2.26,"v":0.519},{"s":"R_TAC2","d":2.79,"v":0.54},{"s":"R_TAC2","d":3.32,"v":0.551},{"s":"R_TAC2","d":3.84,"v":0.561},{"s":"R_TAC2","d":4.37,"v":0.572},{"s":"R_TAC2","d":4.5,"v":0.519},{"s":"R_TAC2","d":4.63,"v":0.582},{"s":"R_TAC2","d":5.16,"v":0.598},{"s":"R_TAC2","d":5.68,"v":0.614},{"s":"R_TAC2","d":6.21,"v":0.63},{"s":"R_TAC2","d":6.74,"v":0.635},{"s":"R_TAC2","d":7.26,"v":0.64},{"s":"R_TAC2","d":7.39,"v":0.677},{"s":"R_TAC2","d":8.05,"v":0.677},{"s":"R_TAC2","d":8.58,"v":0.682},{"s":"R_TAC2","d":9.11,"v":0.677},{"s":"R_TAC2","d":9.37,"v":0.661},{"s":"R_TAC2","d":9.89,"v":0.661},{"s":"R_TAC2","d":10.42,"v":0.672},{"s":"R_TAC2","d":10.95,"v":0.666},{"s":"R_TAC2","d":11.47,"v":0.666},{"s":"R_TAC2","d":12.0,"v":0.661},{"s":"R_TAC2","d":12.53,"v":0.656},{"s":"R_TAC2","d":13.05,"v":0.651},{"s":"R_TAC2","d":13.58,"v":0.645},{"s":"R_TAC2","d":14.11,"v":0.64},{"s":"R_TAC2","d":14.89,"v":0.635},{"s":"R_TAC2","d":15.68,"v":0.64},{"s":"R_TAC2","d":16.21,"v":0.656},{"s":"R_TAC2","d":16.74,"v":0.687},{"s":"R_TAC2","d":17.0,"v":0.708},{"s":"R_TAC2","d":17.53,"v":0.714},{"s":"R_TAC2","d":18.05,"v":0.719},{"s":"R_TAC2","d":18.84,"v":0.729},{"s":"R_TAC2","d":19.63,"v":0.74},{"s":"R_TAC2","d":20.42,"v":0.735},{"s":"R_TAC2","d":21.21,"v":0.735},{"s":"R_TAC2","d":22.26,"v":0.738},{"s":"R_TAC2","d":23.05,"v":0.735},{"s":"R_TAC2","d":23.45,"v":0.708},{"s":"R_TAC2","d":23.97,"v":0.672},{"s":"R_TAC2","d":24.37,"v":0.64},{"s":"R_TAC2","d":24.63,"v":0.666},{"s":"R_TAC2","d":24.89,"v":0.656},{"s":"R_TAC2","d":25.29,"v":0.651},{"s":"R_TAC2","d":25.55,"v":0.645},{"s":"R_TAC2","d":25.63,"v":0.75},{"s":"R_TAC2","d":26.21,"v":0.75},{"s":"R_TAC2","d":26.74,"v":0.755},{"s":"R_TAC2","d":27.26,"v":0.75},{"s":"R_TAC2","d":28.05,"v":0.752},{"s":"R_TAC2","d":29.26,"v":0.752},
{"s":"Q_Int","d":1.95,"v":0.289},{"s":"Q_Int","d":2.26,"v":0.268},{"s":"Q_Int","d":2.53,"v":0.236},{"s":"Q_Int","d":2.79,"v":0.215},{"s":"Q_Int","d":3.05,"v":0.226},{"s":"Q_Int","d":3.32,"v":0.231},{"s":"Q_Int","d":3.58,"v":0.236},{"s":"Q_Int","d":3.84,"v":0.247},{"s":"Q_Int","d":4.11,"v":0.236},{"s":"Q_Int","d":4.37,"v":0.257},{"s":"Q_Int","d":4.63,"v":0.268},{"s":"Q_Int","d":4.9,"v":0.257},{"s":"Q_Int","d":5.16,"v":0.247},{"s":"Q_Int","d":5.42,"v":0.231},{"s":"Q_Int","d":5.68,"v":0.226},{"s":"Q_Int","d":5.95,"v":0.22},{"s":"Q_Int","d":6.34,"v":0.21},{"s":"Q_Int","d":6.74,"v":0.205},{"s":"Q_Int","d":7.0,"v":0.199},{"s":"Q_Int","d":7.26,"v":0.205},{"s":"Q_Int","d":7.39,"v":0.147},{"s":"Q_Int","d":7.53,"v":0.157},{"s":"Q_Int","d":8.05,"v":0.157},{"s":"Q_Int","d":8.58,"v":0.154},{"s":"Q_Int","d":9.11,"v":0.163},{"s":"Q_Int","d":9.5,"v":0.184},{"s":"Q_Int","d":9.89,"v":0.173},{"s":"Q_Int","d":10.42,"v":0.178},{"s":"Q_Int","d":10.95,"v":0.189},{"s":"Q_Int","d":11.47,"v":0.178},{"s":"Q_Int","d":12.0,"v":0.173},{"s":"Q_Int","d":12.53,"v":0.173},{"s":"Q_Int","d":13.05,"v":0.178},{"s":"Q_Int","d":13.58,"v":0.173},{"s":"Q_Int","d":14.11,"v":0.168},{"s":"Q_Int","d":14.5,"v":0.157},{"s":"Q_Int","d":14.89,"v":0.157},{"s":"Q_Int","d":15.68,"v":0.157},{"s":"Q_Int","d":16.47,"v":0.152},{"s":"Q_Int","d":17.26,"v":0.136},{"s":"Q_Int","d":18.05,"v":0.126},{"s":"Q_Int","d":18.84,"v":0.115},{"s":"Q_Int","d":19.63,"v":0.1},{"s":"Q_Int","d":20.42,"v":0.094},{"s":"Q_Int","d":21.21,"v":0.089},{"s":"Q_Int","d":22.0,"v":0.087},{"s":"Q_Int","d":22.79,"v":0.089},{"s":"Q_Int","d":23.32,"v":0.1},{"s":"Q_Int","d":23.97,"v":0.121},{"s":"Q_Int","d":24.63,"v":0.131},{"s":"Q_Int","d":25.16,"v":0.136},{"s":"Q_Int","d":25.55,"v":0.136},{"s":"Q_Int","d":25.68,"v":0.1},{"s":"Q_Int","d":26.47,"v":0.1},{"s":"Q_Int","d":27.26,"v":0.098},{"s":"Q_Int","d":28.05,"v":0.094},{"s":"Q_Int","d":29.26,"v":0.098}]
},
"concat": [
{
 "width": 445, "height": 332,
 "layer": [
  {"data": {"name": "ta"},
   "mark": {"type": "line", "color": "#0072BD", "strokeWidth": 1.4, "clip": true},
   "encoding": {
    "x": {"field": "d", "type": "quantitative", "scale": {"domain": [2, 29.45], "range": [4, 445], "nice": false, "zero": false},
      "axis": {"values": [7, 14, 21, 28], "labelExpr": "(datum.value < 10 ? '0' : '') + datum.value + ' Feb'", "labelFlush": false,
        "title": ["(a) Outdoor air temperature and TAC supply tempera-", "ture."], "titleFontSize": 26, "titleColor": "#000", "titleLineHeight": 31,
        "titleAlign": "left", "titleAnchor": "start", "titleBaseline": "alphabetic", "titleX": -70, "titleY": 68}},
    "y": {"field": "v", "type": "quantitative", "scale": {"domain": [-3.42, 12.12], "range": [332, 12], "nice": false, "zero": false},
      "axis": {"orient": "left", "offset": -4, "values": [0, 5, 10], "domainColor": "#0072BD", "tickColor": "#0072BD", "labelColor": "#0072BD", "titleColor": "#0072BD",
        "title": ["T\u00a0\u00a0\u00a0\u00a0/ °C", "\u200b\u00a0\u00a0A"], "titleAngle": -90, "titleAlign": "left", "titleBaseline": "alphabetic", "titleLineHeight": 9, "titleX": -50, "titleY": 207}}
   }},
  {"data": {"name": "ts"},
   "mark": {"type": "line", "color": "#D95319", "strokeWidth": 1.4, "strokeDash": [10, 6], "clip": true},
   "encoding": {
    "x": {"field": "d", "type": "quantitative"},
    "y": {"field": "v", "type": "quantitative", "scale": {"domain": [22.51, 29.71], "range": [332, 12], "nice": false, "zero": false},
      "axis": {"orient": "right", "values": [23, 24, 25, 26, 27, 28, 29], "labelPadding": 10, "domainColor": "#D95319", "tickColor": "#D95319", "labelColor": "#D95319", "titleColor": "#D95319",
        "title": ["T\u00a0\u00a0\u00a0\u00a0\u00a0\u00a0\u00a0\u00a0\u00a0\u00a0\u00a0\u00a0\u00a0\u00a0\u00a0\u00a0/ °C", "\u200b\u00a0\u00a0Sup,TAC"], "titleAngle": -90, "titleAlign": "left", "titleBaseline": "alphabetic", "titleLineHeight": 9, "titleX": 58, "titleY": 294}}
   }}
 ],
 "resolve": {"scale": {"y": "independent"}}
},
{
 "width": 514, "height": 332,
 "data": {"name": "tb"},
 "mark": {"type": "line", "strokeWidth": 1.3, "clip": true},
 "encoding": {
  "x": {"field": "d", "type": "quantitative", "scale": {"domain": [2, 29.41], "nice": false, "zero": false},
    "axis": {"values": [7, 14, 21, 28], "labelExpr": "(datum.value < 10 ? '0' : '') + datum.value + ' Feb'", "labelFlush": false,
      "title": "(b) Predicted and measured room air temperature.", "titleFontSize": 26, "titleColor": "#000",
      "titleAlign": "left", "titleAnchor": "start", "titleBaseline": "alphabetic", "titleX": -42, "titleY": 68}},
  "y": {"field": "v", "type": "quantitative", "scale": {"domain": [19.67, 24.72], "nice": false, "zero": false},
    "axis": {"values": [20, 21, 22, 23, 24],
      "title": ["T\u00a0\u00a0\u00a0\u00a0\u00a0\u00a0/ °C", "\u200b\u00a0\u00a0Air"], "titleAngle": -90, "titleAlign": "left", "titleBaseline": "alphabetic", "titleLineHeight": 9, "titleX": -48, "titleY": 207}},
  "color": {"field": "s", "type": "nominal", "scale": {"domain": ["measured", "CUKF", "no filter"], "range": ["#0072BD", "#D95319", "#77AC30"]},
    "legend": {"title": null, "orient": "none", "legendX": 37, "legendY": 231, "direction": "vertical", "fillColor": "white", "strokeColor": "#000", "padding": 6,
      "symbolType": "M-1,0H6.7", "symbolSize": 400, "symbolStrokeWidth": 1.5, "labelOffset": 63, "labelFontSize": 23, "rowPadding": 4}},
  "strokeDash": {"field": "s", "type": "nominal", "scale": {"domain": ["measured", "CUKF", "no filter"], "range": [[1, 0], [10, 4, 3, 4], [14, 8]]},
    "legend": {"title": null, "orient": "none", "legendX": 37, "legendY": 231, "direction": "vertical", "fillColor": "white", "strokeColor": "#000", "padding": 6,
      "symbolType": "M-1,0H6.7", "symbolSize": 400, "symbolStrokeWidth": 1.5, "labelOffset": 63, "labelFontSize": 23, "rowPadding": 4}}
 }
},
{
 "width": 518, "height": 326,
 "layer": [
  {"data": {"name": "box"},
   "mark": {"type": "rule", "color": "#000", "strokeWidth": 1.2, "strokeDash": [10, 7]},
   "encoding": {
    "x": {"field": "cat", "type": "nominal", "scale": {"domain": ["no filter", "state filter", "CUKF"], "paddingInner": 0, "paddingOuter": 0},
      "axis": {"labelAngle": 0, "title": ["(c) RMSE box (quartiles) and whisker (±1.5×IQR) dis-", "tribution with outliers for a 48 h prediction."],
        "titleFontSize": 26, "titleColor": "#000", "titleLineHeight": 30, "titleAlign": "left", "titleAnchor": "start", "titleBaseline": "alphabetic", "titleX": -70, "titleY": 69}},
    "y": {"field": "q3", "type": "quantitative", "scale": {"domain": [0, 0.825], "nice": false, "zero": false},
      "axis": {"values": [0, 0.2, 0.4, 0.6, 0.8], "format": ".1~f", "title": "RMSE / °C", "titlePadding": 8}},
    "y2": {"field": "hi"}
   }},
  {"data": {"name": "box"},
   "mark": {"type": "rule", "color": "#000", "strokeWidth": 1.2, "strokeDash": [10, 7]},
   "encoding": {
    "x": {"field": "cat", "type": "nominal"},
    "y": {"field": "lo", "type": "quantitative", "title": "RMSE / °C"},
    "y2": {"field": "q1"}
   }},
  {"data": {"name": "box"},
   "mark": {"type": "tick", "color": "#000", "size": 38, "thickness": 1.5, "orient": "horizontal"},
   "encoding": {"x": {"field": "cat", "type": "nominal"}, "y": {"field": "hi", "type": "quantitative", "title": "RMSE / °C"}}},
  {"data": {"name": "box"},
   "mark": {"type": "tick", "color": "#000", "size": 38, "thickness": 1.5, "orient": "horizontal"},
   "encoding": {"x": {"field": "cat", "type": "nominal"}, "y": {"field": "lo", "type": "quantitative", "title": "RMSE / °C"}}},
  {"data": {"name": "box"},
   "mark": {"type": "bar", "fill": "white", "fillOpacity": 0, "stroke": "#0000FF", "strokeWidth": 1.5, "width": {"band": 0.45}},
   "encoding": {"x": {"field": "cat", "type": "nominal"}, "y": {"field": "q1", "type": "quantitative", "title": "RMSE / °C"}, "y2": {"field": "q3"}}},
  {"data": {"name": "box"},
   "mark": {"type": "tick", "color": "#FF0000", "size": 77, "thickness": 1.5, "orient": "horizontal"},
   "encoding": {"x": {"field": "cat", "type": "nominal"}, "y": {"field": "med", "type": "quantitative", "title": "RMSE / °C"}}},
  {"data": {"name": "out"},
   "mark": {"type": "point", "shape": "M-1,0H1M0,-1V1", "size": 150, "filled": false, "stroke": "#FF0000", "strokeWidth": 2, "opacity": 1},
   "encoding": {"x": {"field": "cat", "type": "nominal"}, "y": {"field": "v", "type": "quantitative", "title": "RMSE / °C"}}}
 ]
},
{
 "width": 355, "height": 326,
 "data": {"name": "pd"},
 "mark": {"type": "line", "strokeWidth": 1.3, "clip": true},
 "encoding": {
  "x": {"field": "d", "type": "quantitative", "scale": {"domain": [1.95, 29.26], "range": [6, 355], "nice": false, "zero": false},
    "axis": {"values": [7, 14, 21, 28], "labelExpr": "(datum.value < 10 ? '0' : '') + datum.value + ' Feb'", "labelFlush": false,
      "title": "(d) Evolution of states and parameters using the CUKF.", "titleFontSize": 26, "titleColor": "#000",
      "titleAlign": "left", "titleAnchor": "start", "titleBaseline": "alphabetic", "titleX": -68, "titleY": 69}},
  "y": {"field": "v", "type": "quantitative", "scale": {"domain": [0, 1], "range": [326, 8], "nice": false, "zero": false},
    "axis": {"offset": -6, "values": [0, 0.2, 0.4, 0.6, 0.8, 1], "format": ".1~f",
      "title": ["p", "\u200b\u00a0\u00a0Norm"], "titleAngle": -90, "titleAlign": "left", "titleBaseline": "alphabetic", "titleLineHeight": 9, "titleX": -50, "titleY": 197}},
  "color": {"field": "s", "type": "nominal",
    "scale": {"domain": ["T_Air", "T_Int", "T_W", "T_TAC", "R_W2", "R_TAC1", "R_TAC2", "Q_Int"], "range": ["#0072BD", "#D95319", "#EDB120", "#7E2F8E", "#77AC30", "#4DBEEE", "#A2142F", "#0072BD"]},
    "legend": {"title": null, "orient": "none", "legendX": 352, "legendY": 18, "direction": "vertical", "fillColor": "white", "strokeColor": "#262626", "padding": 5,
      "symbolType": "M-1,0H6.7", "symbolSize": 400, "symbolStrokeWidth": 1.5, "labelOffset": 63, "labelFontSize": 23, "rowPadding": 1.5,
      "labelExpr": "[split(datum.label, '_')[0], '\u200b\u00a0\u00a0' + split(datum.label, '_')[1]]"}},
  "strokeDash": {"field": "s", "type": "nominal",
    "scale": {"domain": ["T_Air", "T_Int", "T_W", "T_TAC", "R_W2", "R_TAC1", "R_TAC2", "Q_Int"], "range": [[10, 4, 3, 4], [10, 4, 3, 4], [10, 4, 3, 4], [10, 4, 3, 4], [1, 0], [1, 0], [1, 0], [1, 0]]},
    "legend": {"title": null, "orient": "none", "legendX": 352, "legendY": 18, "direction": "vertical", "fillColor": "white", "strokeColor": "#262626", "padding": 5,
      "symbolType": "M-1,0H6.7", "symbolSize": 400, "symbolStrokeWidth": 1.5, "labelOffset": 63, "labelFontSize": 23, "rowPadding": 1.5,
      "labelExpr": "[split(datum.label, '_')[0], '\u200b\u00a0\u00a0' + split(datum.label, '_')[1]]"}}
 }
}
],
"config": {
 "font": "Liberation Serif, Times New Roman, DejaVu Serif, serif",
 "view": {"stroke": null},
 "axis": {"labelFont": "Liberation Serif, Times New Roman, DejaVu Serif, serif", "labelFontSize": 23, "titleFont": "Liberation Serif, Times New Roman, DejaVu Serif, serif", "titleFontSize": 23, "titleFontWeight": "normal",
   "domainColor": "#262626", "tickColor": "#262626", "labelColor": "#262626", "titleColor": "#262626", "grid": false, "tickSize": -5, "labelPadding": 14, "domainWidth": 1, "tickWidth": 1},
 "legend": {"labelFont": "Liberation Serif, Times New Roman, DejaVu Serif, serif", "labelFontSize": 23, "labelColor": "#000"},
 "style": {"guide-label": {"lineHeight": 12}}
}
}
